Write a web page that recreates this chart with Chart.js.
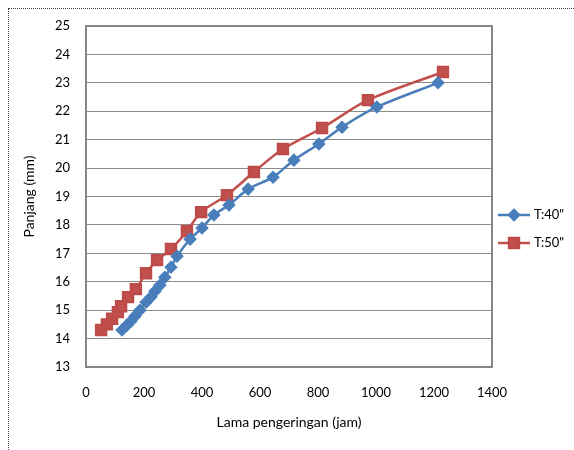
<!DOCTYPE html>
<html>
<head>
<meta charset="utf-8">
<script src="https://cdn.jsdelivr.net/npm/chart.js@4/dist/chart.umd.min.js"></script>
<style>
  body { margin: 0; background: #fff; }
  #wrap { position: relative; width: 574px; height: 450px; }
  #frame { position: absolute; left: 8px; top: 8px; right: -2px; bottom: -2px;
           border-left: 1px dotted #444; border-top: 1px dotted #444; }
  canvas { position: absolute; left: 0; top: 0; }
</style>
</head>
<body>
<div id="wrap">
  <div id="frame"></div>
  <canvas id="chart" width="574" height="450"></canvas>
</div>
<script>
// T:40" series (hours, length mm)
const hours40 = [124, 141, 155, 169, 186, 207, 224, 238, 255, 272, 293, 314, 359, 400, 441, 493, 559, 645, 717, 803, 883, 1003, 1214];
const len40 = [14.30, 14.47, 14.61, 14.79, 15.00, 15.28, 15.46, 15.67, 15.88, 16.16, 16.51, 16.90, 17.50, 17.89, 18.35, 18.70, 19.26, 19.68, 20.28, 20.85, 21.44, 22.15, 23.00];
// T:50" series
const hours50 = [52, 72, 90, 110, 121, 145, 172, 207, 245, 293, 348, 397, 486, 579, 679, 814, 972, 1231];
const len50 = [14.30, 14.50, 14.70, 14.93, 15.14, 15.46, 15.74, 16.30, 16.76, 17.15, 17.78, 18.45, 19.05, 19.86, 20.67, 21.41, 22.39, 23.38];

const seriesNames = ['T:40"', 'T:50"'];
const xTicks = [0, 200, 400, 600, 800, 1000, 1200, 1400];

const toPoints = (xs, ys) => xs.map((x, i) => ({ x: x, y: ys[i] }));

const FONT = "Lato, 'Open Sans', sans-serif";

//plot border + legend drawn next to the plot like Excel does
const excelBits = {
  id: "excelBits",
  beforeDatasetsDraw(chart) {
    const { ctx, chartArea: a } = chart;
    ctx.save();
    ctx.strokeStyle = "#868686";
    ctx.lineWidth = 2;
    ctx.strokeRect(a.left, a.top, a.right - a.left, a.bottom - a.top);
    ctx.restore();
  },
  afterDraw(chart) {
    const { ctx, chartArea: a } = chart;
    ctx.save();
    chart.data.datasets.forEach((ds, i) => {
      const y = a.top + 189 + i * 28;
      const x0 = a.right + 6;
      ctx.strokeStyle = ds.borderColor;
      ctx.lineWidth = 2.5;
      ctx.beginPath();
      ctx.moveTo(x0, y);
      ctx.lineTo(x0 + 32, y);
      ctx.stroke();
      ctx.fillStyle = ds.pointBackgroundColor;
      ctx.strokeStyle = ds.pointBorderColor;
      Chart.helpers.drawPoint(ctx, {
        pointStyle: ds.pointStyle, radius: ds.pointRadius,
        rotation: 0, borderWidth: 1
      }, x0 + 16, y);
      ctx.fillStyle = "#000";
      ctx.font = "13px " + FONT;
      ctx.textBaseline = "middle";
      ctx.textAlign = "left";
      ctx.fillText(ds.label, x0 + 36, y);
    });
    ctx.restore();
  }
};

new Chart(document.getElementById("chart"), {
  type: "line",
  plugins: [excelBits],
  data: {
    datasets: [
      {
        label: seriesNames[0],
        data: toPoints(hours40, len40),
        borderColor: "#4A7EBB",
        backgroundColor: "#4A7EBB",
        pointBackgroundColor: "#4A7EBB",
        pointBorderColor: "#4A7EBB",
        pointStyle: "rectRot",
        pointRadius: 5,
        borderWidth: 2.5,
        tension: 0.3
      },
      {
        label: seriesNames[1],
        data: toPoints(hours50, len50),
        borderColor: "#C0504D",
        backgroundColor: "#C0504D",
        pointBackgroundColor: "#C0504D",
        pointBorderColor: "#BE4B48",
        pointStyle: "rect",
        pointRadius: 7,
        borderWidth: 2.5,
        tension: 0.3
      }
    ]
  },
  options: {
    responsive: false,
    animation: false,
    layout: { padding: { left: 17, top: 26, right: 82, bottom: 15 } },
    plugins: {
      legend: { display: false },
      tooltip: { enabled: false }
    },
    scales: {
      x: {
        type: "linear",
        min: 0,
        max: 1400,
        afterFit: (s) => { s.height = 68; },
        afterBuildTicks: (s) => { s.ticks = xTicks.map(v => ({ value: v })); },
        grid: { display: false, drawTicks: false },
        border: { display: false },
        ticks: {
          padding: 18, color: "#000", font: { family: FONT, size: 13 }, maxRotation: 0,
          callback: (v) => String(v)
        },
        title: { display: true, text: "Lama pengeringan (jam)", color: "#000", font: { family: FONT, size: 14 } }
      },
      y: {
        min: 13,
        max: 25,
        afterFit: (s) => { s.width = 69; },
        grid: { color: "#8C8C8C", lineWidth: 1, drawTicks: false },
        border: { display: false },
        ticks: { stepSize: 1, padding: 16, color: "#000", font: { family: FONT, size: 13 } },
        title: { display: true, text: "Panjang (mm)", color: "#000", font: { family: FONT, size: 14 } }
      }
    }
  }
});
</script>
</body>
</html>
